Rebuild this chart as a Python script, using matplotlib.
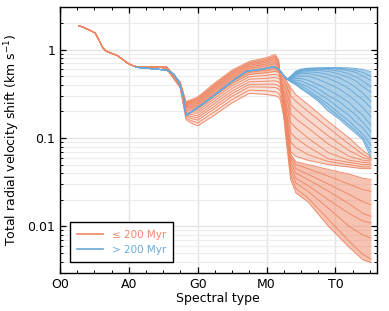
import matplotlib
matplotlib.use("Agg")
import matplotlib.pyplot as plt
from matplotlib.lines import Line2D
from matplotlib.ticker import FixedLocator, MultipleLocator, LogLocator, NullFormatter

# ---------------- data (spectral type: O0=0, A0=20, G0=40, M0=60, T0=80) -------------
# shared early part of all <=200 Myr curves
x_early = [5.5, 6.5, 8.0, 9.2, 10.2, 11.0, 11.6, 12.4, 13.1, 14.5, 16.5, 17.9, 19.4,
           20.8, 22.3, 26.0, 29.0]
y_early = [1.85, 1.80, 1.70, 1.61, 1.54, 1.35, 1.22, 1.05, 0.98, 0.92, 0.86, 0.79, 0.71,
           0.665, 0.637, 0.635, 0.632]

# nodes of the <=200 Myr family
x_young = [31.0, 34.9, 36.6, 38.0, 40.0, 45.0, 50.0, 55.0, 60.0, 62.5, 63.5, 64.0,
           65.5, 67.0, 68.5, 72.0, 78.0, 84.0, 88.0, 90.3]
young = [
    [.635, .430, .257, .270, .290, .420, .585, .733, .810, .880, .76, .42, .11, .034, .024, .019, .0100, .0058, .0042, .0039],
    [.634, .427, .252, .264, .281, .406, .565, .709, .779, .843, .74, .46, .13, .038, .027, .021, .012, .0068, .0048, .0043],
    [.632, .425, .248, .257, .273, .393, .547, .686, .750, .808, .72, .50, .15, .043, .031, .025, .016, .010, .0080, .0074],
    [.631, .422, .243, .251, .265, .380, .528, .664, .722, .773, .69, .52, .17, .048, .035, .029, .020, .014, .0115, .011],
    [.629, .419, .238, .244, .255, .365, .506, .637, .688, .733, .66, .53, .19, .053, .040, .034, .025, .018, .014, .013],
    [.627, .416, .232, .237, .246, .350, .485, .611, .656, .694, .63, .52, .21, .058, .045, .039, .030, .023, .019, .0176],
    [.625, .412, .226, .228, .235, .333, .461, .581, .619, .651, .60, .51, .23, .062, .050, .045, .037, .030, .026, .025],
    [.623, .409, .220, .220, .225, .317, .438, .553, .584, .610, .56, .49, .25, .066, .054, .050, .044, .039, .035, .034],
    [.620, .404, .213, .211, .213, .299, .413, .522, .546, .566, .55, .53, .46, .37, .31, .24, .153, .10, .072, .062],
    [.618, .400, .206, .202, .202, .282, .389, .492, .511, .525, .51, .49, .41, .30, .26, .20, .13, .085, .065, .059],
    [.615, .395, .198, .193, .191, .264, .363, .461, .473, .482, .47, .45, .36, .24, .21, .16, .105, .072, .060, .057],
    [.612, .391, .191, .184, .179, .247, .339, .431, .438, .442, .43, .41, .31, .19, .165, .13, .085, .062, .056, .055],
    [.610, .386, .184, .175, .169, .231, .317, .404, .406, .405, .39, .37, .26, .15, .13, .10, .068, .056, .053, .052],
    [.607, .381, .178, .167, .159, .216, .296, .378, .376, .372, .36, .34, .21, .115, .10, .08, .058, .053, .050, .050],
    [.603, .376, .170, .157, .148, .199, .272, .348, .341, .334, .32, .30, .17, .09, .078, .065, .054, .050, .047, .047],
    [.600, .370, .162, .148, .137, .183, .250, .320, .310, .300, .29, .27, .14, .07, .062, .056, .050, .047, .045, .045],
]

# shared part of all >200 Myr curves
x_old_common = [22.0, 26.0, 31.0, 33.0, 34.5, 35.8, 36.6, 38.0, 41.7, 46.0, 51.4, 54.3,
                58.1, 62.0, 63.5, 64.8, 66.0]
y_old_common = [0.63, 0.61, 0.585, 0.53, 0.43, 0.30, 0.18, 0.195, 0.245, 0.33, 0.48, 0.57,
                0.594, 0.637, 0.60, 0.52, 0.46]

# fan of the >200 Myr family beyond the kink
x_old = [67.0, 68.5, 70.0, 72.0, 75.0, 78.0, 81.0, 84.0, 86.0, 88.0, 90.3]
old = [
    [.50, .57, .60, .615, .62, .625, .625, .62, .61, .595, .56],
    [.49, .56, .59, .61, .615, .62, .615, .60, .58, .55, .50],
    [.49, .55, .585, .60, .61, .61, .60, .575, .55, .50, .45],
    [.48, .54, .575, .59, .60, .595, .57, .53, .49, .44, .38],
    [.48, .53, .565, .58, .58, .565, .53, .48, .44, .38, .33],
    [.47, .52, .55, .56, .55, .52, .48, .42, .37, .32, .26],
    [.47, .51, .53, .535, .51, .47, .42, .36, .31, .27, .22],
    [.46, .49, .50, .50, .46, .41, .36, .30, .26, .22, .174],
    [.46, .47, .47, .45, .40, .35, .30, .25, .21, .18, .14],
    [.45, .45, .44, .41, .36, .30, .26, .21, .18, .15, .118],
    [.45, .43, .41, .38, .32, .27, .22, .18, .15, .13, .10],
    [.44, .42, .39, .35, .29, .24, .19, .155, .13, .11, .083],
    [.44, .41, .37, .33, .275, .22, .175, .14, .12, .10, .07],
    [.43, .40, .36, .32, .26, .20, .165, .13, .112, .095, .06],
]

xtick_pos = [0, 20, 40, 60, 80]
xtick_labels = ["O0", "A0", "G0", "M0", "T0"]
labels = ["\u2264 200 Myr", "> 200 Myr"]

c_young = "#EE8866"
c_old = "#6AAAD8"

# ---------------- figure ----------------
fig = plt.figure(figsize=(3.89, 3.11), dpi=100)
ax = fig.add_axes([0.1542, 0.1232, 0.8142, 0.8533])

# shading of the dense parts of each family (envelopes taken from the curves)
n_mid = 13  # index of x = 67.0
ax.fill_between(x_young[:n_mid + 1], young[0][:n_mid + 1], young[8][:n_mid + 1],
                color=c_young, alpha=0.6, lw=0, zorder=1.5)
ax.fill_between(x_young[:n_mid + 1], young[8][:n_mid + 1], young[15][:n_mid + 1],
                color=c_young, alpha=0.22, lw=0, zorder=1.5)
ax.fill_between(x_young[n_mid:], young[0][n_mid:], young[7][n_mid:],
                color=c_young, alpha=0.5, lw=0, zorder=1.5)
ax.fill_between(x_young[n_mid:], young[8][n_mid:], young[15][n_mid:],
                color=c_young, alpha=0.32, lw=0, zorder=1.5)
ax.fill_between(x_old_common[-1:] + x_old, y_old_common[-1:] + old[0],
                y_old_common[-1:] + old[-1], color=c_old, alpha=0.55, lw=0, zorder=2.5)

for row in young:
    ax.plot(x_early + x_young, y_early + row, color=c_young, lw=0.7, alpha=0.95,
            solid_joinstyle="round", zorder=2)
for row in old:
    ax.plot(x_old_common + x_old, y_old_common + row, color=c_old, lw=0.7, alpha=0.95,
            solid_joinstyle="round", zorder=3)

ax.set_yscale("log")
ax.set_xlim(0, 92)
ax.set_ylim(0.003, 3)

ax.xaxis.set_major_locator(FixedLocator(xtick_pos))
ax.set_xticklabels(xtick_labels)
ax.xaxis.set_minor_locator(MultipleLocator(5))
ax.yaxis.set_major_locator(FixedLocator([0.01, 0.1, 1]))
ax.set_yticklabels(["0.01", "0.1", "1"])
ax.yaxis.set_minor_locator(LogLocator(base=10, subs=range(2, 10)))
ax.yaxis.set_minor_formatter(NullFormatter())

ax.tick_params(which="both", direction="in", top=True, right=True, colors="black",
               labelsize=9)
ax.tick_params(which="major", length=4, width=0.9)
ax.tick_params(which="minor", length=2.5, width=0.7)

ax.grid(True, which="major", axis="both", color="#e4e4e4", lw=1.0, zorder=0)
ax.grid(True, which="minor", axis="y", color="#ececec", lw=0.8, zorder=0)
ax.set_axisbelow(True)
for s in ax.spines.values():
    s.set_color("black")
    s.set_linewidth(1.0)

ax.set_xlabel("Spectral type", fontsize=9, labelpad=1)
ax.set_ylabel("Total radial velocity shift (km s$^{-1}$)", fontsize=9, labelpad=4)

handles = [Line2D([], [], color=c_young, lw=1.2), Line2D([], [], color=c_old, lw=1.2)]
leg = ax.legend(handles, labels, loc="lower left", bbox_to_anchor=(0.032, 0.04),
                borderaxespad=0, fontsize=7.5, fancybox=False, framealpha=1,
                edgecolor="black", handlelength=2.5, borderpad=0.7, labelspacing=0.5)
leg.get_frame().set_linewidth(1.0)
for t, c in zip(leg.get_texts(), [c_young, c_old]):
    t.set_color(c)

fig.savefig("out.png", dpi=100)
